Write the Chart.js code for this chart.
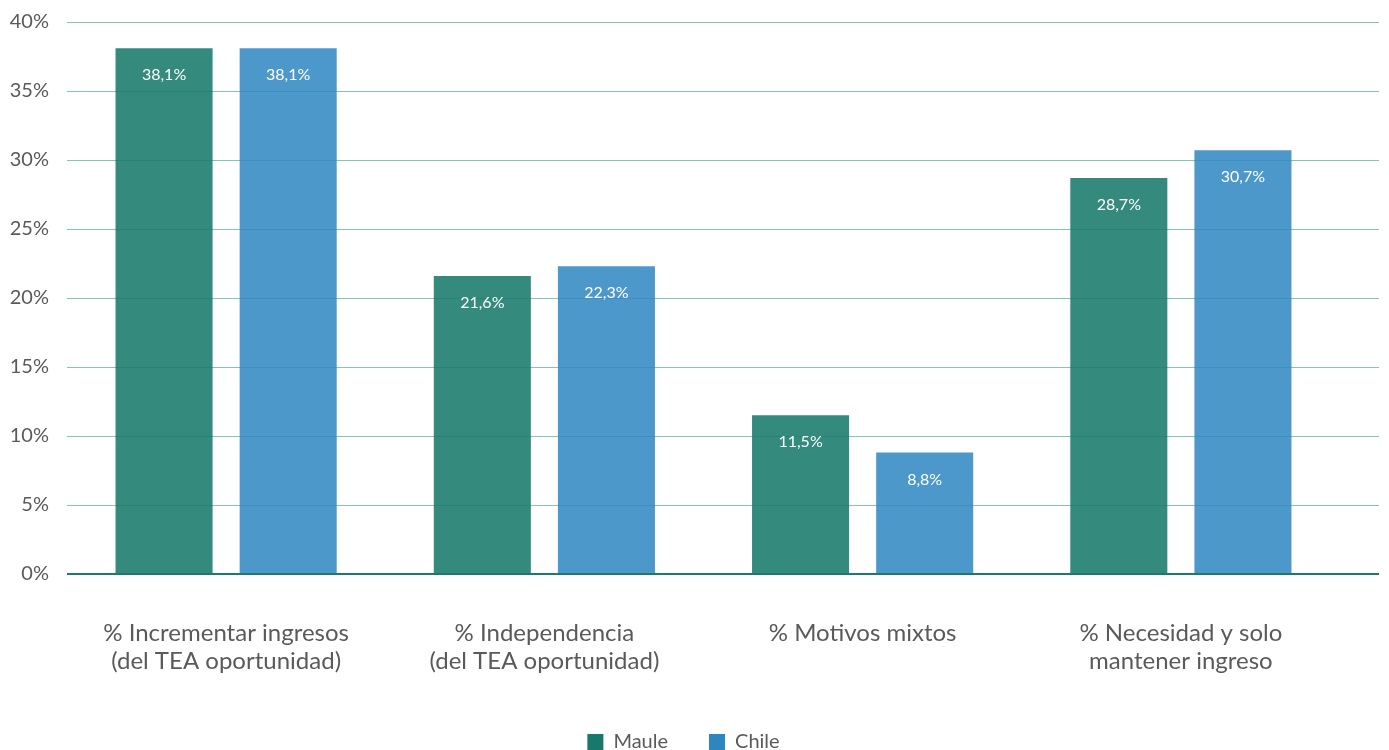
<!DOCTYPE html>
<html>
<head>
<meta charset="utf-8">
<script src="https://cdn.jsdelivr.net/npm/chart.js@4"></script>
<style>
  html, body { margin: 0; padding: 0; background: #fff; }
  #wrap { width: 1389px; height: 750px; }
</style>
</head>
<body>
<div id="wrap"><canvas id="chart"></canvas></div>
<script>
const categories = [
  ['% Incrementar ingresos', '(del TEA oportunidad)'],
  ['% Independencia', '(del TEA oportunidad)'],
  '% Motivos mixtos',
  ['% Necesidad y solo', 'mantener ingreso']
];
const maule = [38.1, 21.6, 11.5, 28.7];
const chile = [38.1, 22.3, 8.8, 30.7];
const seriesNames = ['Maule', 'Chile'];
const solidColors = ['#17796b', '#2e86c1'];
const barColors = ['rgba(23,121,107,0.87)', 'rgba(46,134,193,0.85)'];

const FONT = 'Lato, "Open Sans", sans-serif';
const TEXT = '#5a5a5a';
const fmt = v => v.toFixed(1).replace('.', ',') + '%';

// horizontal grid lines, reaching a little past the last category
const gridLines = {
  id: 'gridLines',
  beforeDatasetsDraw(chart) {
    const { ctx, chartArea, scales: { y } } = chart;
    ctx.save();
    y.ticks.forEach(t => {
      if (t.value === 0) return;
      const py = Math.round(y.getPixelForValue(t.value)) + 0.5;
      ctx.strokeStyle = '#84c5ba';
      ctx.lineWidth = 1;
      ctx.beginPath();
      ctx.moveTo(chartArea.left, py);
      ctx.lineTo(chart.width - 10, py);
      ctx.stroke();
    });
    ctx.restore();
  },
  afterDatasetsDraw(chart) {
    const { ctx, chartArea, scales: { y } } = chart;
    const py = y.getPixelForValue(0);
    ctx.save();
    ctx.strokeStyle = '#1c7a6d';
    ctx.lineWidth = 2;
    ctx.beginPath();
    ctx.moveTo(chartArea.left, py);
    ctx.lineTo(chart.width - 10, py);
    ctx.stroke();
    ctx.restore();
  }
};

// value labels inside the top of each bar
const barLabels = {
  id: 'barLabels',
  afterDatasetsDraw(chart) {
    const { ctx } = chart;
    ctx.save();
    ctx.font = '16px ' + FONT;
    ctx.fillStyle = '#ffffff';
    ctx.textAlign = 'center';
    ctx.textBaseline = 'middle';
    chart.data.datasets.forEach((ds, i) => {
      chart.getDatasetMeta(i).data.forEach((bar, j) => {
        ctx.fillText(fmt(ds.data[j]), bar.x, bar.y + 27);
      });
    });
    ctx.restore();
  }
};

new Chart(document.getElementById('chart'), {
  type: 'bar',
  data: {
    labels: categories,
    datasets: [
      { label: seriesNames[0], data: maule, backgroundColor: barColors[0] },
      { label: seriesNames[1], data: chile, backgroundColor: barColors[1] }
    ]
  },
  options: {
    responsive: true,
    maintainAspectRatio: false,
    animation: false,
    categoryPercentage: 0.78,
    barPercentage: 0.782,
    layout: { padding: { top: 12, right: 22, left: 0, bottom: -12 } },
    scales: {
      x: {
        grid: { display: false },
        border: { display: false },
        ticks: {
          color: TEXT,
          font: { family: FONT, size: 24, lineHeight: '28px' },
          padding: 37,
          maxRotation: 0
        },
        afterFit: s => { s.height = 117; }
      },
      y: {
        min: 0,
        max: 40,
        grid: { display: false },
        border: { display: false },
        ticks: {
          stepSize: 5,
          color: TEXT,
          font: { family: FONT, size: 20 },
          padding: 10,
          callback: v => v + '%'
        },
        afterFit: s => { s.width = 67; }
      },
      // empty right gutter between the last group and the grid line ends
      gutter: {
        type: 'linear',
        axis: 'y',
        position: 'right',
        grid: { display: false },
        border: { display: false },
        ticks: { display: false },
        afterFit: s => { s.width = 27; }
      }
    },
    plugins: {
      tooltip: { enabled: false },
      legend: {
        position: 'bottom',
        labels: {
          color: TEXT,
          font: { family: FONT, size: 20 },
          boxWidth: 16,
          boxHeight: 16,
          padding: 41,
          generateLabels: chart => chart.data.datasets.map((ds, i) => ({
            text: ds.label,
            fillStyle: solidColors[i],
            strokeStyle: solidColors[i],
            lineWidth: 0,
            fontColor: TEXT,
            datasetIndex: i
          }))
        }
      }
    }
  },
  plugins: [gridLines, barLabels]
});
</script>
</body>
</html>
